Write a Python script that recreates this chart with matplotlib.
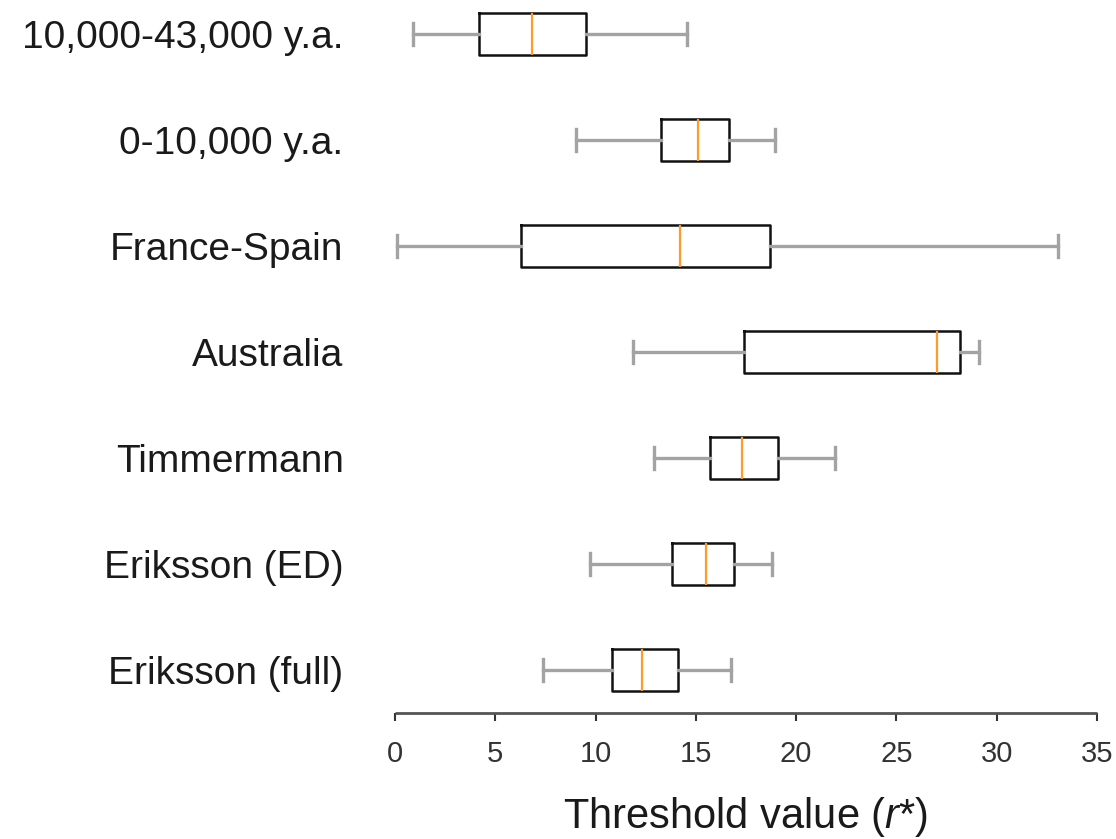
import matplotlib
matplotlib.use("Agg")
import matplotlib.pyplot as plt

plt.rcParams['font.family'] = ['Liberation Sans', 'DejaVu Sans']
plt.rcParams['mathtext.fontset'] = 'custom'
plt.rcParams['mathtext.rm'] = 'Liberation Sans'
plt.rcParams['mathtext.it'] = 'Liberation Sans:italic'

labels = ["10,000-43,000 y.a.", "0-10,000 y.a.", "France-Spain", "Australia",
          "Timmermann", "Eriksson (ED)", "Eriksson (full)"]
whislo = [0.92, 9.05, 0.10, 11.88, 12.90, 9.74, 7.40]
q1 = [4.21, 13.25, 6.28, 17.42, 15.70, 13.83, 10.80]
med = [6.85, 15.13, 14.23, 27.00, 17.30, 15.50, 12.33]
q3 = [9.51, 16.65, 18.72, 28.17, 19.10, 16.90, 14.13]
whishi = [14.55, 18.95, 33.05, 29.10, 21.95, 18.80, 16.75]

stats = []
for i in range(len(labels)):
    stats.append({"label": labels[i], "whislo": whislo[i], "q1": q1[i],
                  "med": med[i], "q3": q3[i], "whishi": whishi[i], "fliers": []})

fig = plt.figure(figsize=(11.16, 8.39), dpi=100)
ax = fig.add_axes([394.9 / 1116, 1 - 712.7 / 839, (1097 - 394.9) / 1116, 712.7 / 839])

ax.bxp(stats, positions=range(1, len(labels) + 1), vert=False, widths=0.4,
       showfliers=False,
       boxprops=dict(color="#111111", linewidth=1.8),
       whiskerprops=dict(color="#a3a3a3", linewidth=2.4),
       capprops=dict(color="#a3a3a3", linewidth=2.4),
       medianprops=dict(color="#ff9a2e", linewidth=1.6),
       capwidths=0.2)

ax.set_xlim(0, 35)
ax.set_ylim(7.403, 0.679)
ax.set_xticks(range(0, 36, 5))

for s in ["top", "right", "left"]:
    ax.spines[s].set_visible(False)
ax.spines["bottom"].set_color("#555555")
ax.spines["bottom"].set_linewidth(2)
ax.spines["bottom"].set_capstyle("butt")

ax.tick_params(axis="y", length=0, pad=37, labelsize=28, labelcolor="#1a1a1a")
ax.tick_params(axis="x", length=6, width=1.5, color="#333333", pad=14,
               labelsize=21, labelcolor="#333333")

ax.set_xlabel("Threshold value ($r$*)", fontsize=30, color="#1a1a1a", labelpad=19)

fig.savefig("out.png", dpi=100)
